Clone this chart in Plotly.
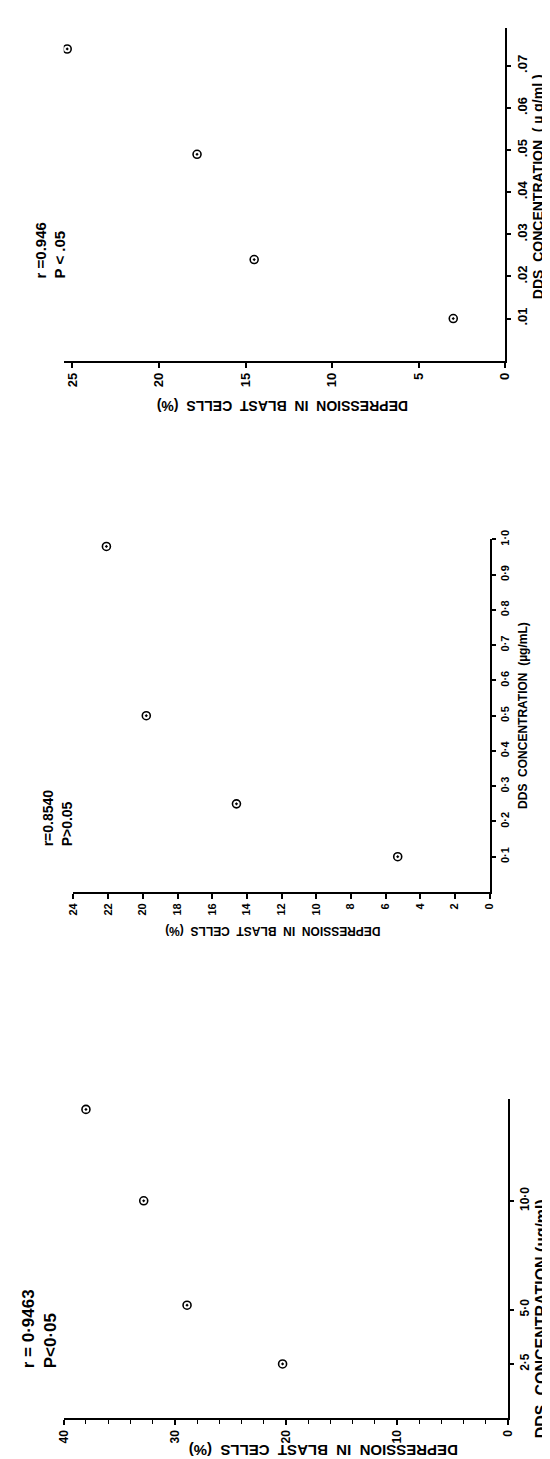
import plotly.graph_objects as go

W, H = 550, 1459

# ---------------- data ----------------
# Panel A (top): DDS 0.01 - 0.07 ug/ml
conc_a = [0.01, 0.024, 0.049, 0.074]
dep_a = [3.0, 14.5, 17.8, 25.3]
conc_a_ticks = [0.01, 0.02, 0.03, 0.04, 0.05, 0.06, 0.07]
conc_a_text = [".01", ".02", ".03", ".04", ".05", ".06", ".07"]
dep_a_ticks = [0, 5, 10, 15, 20, 25]
dep_a_text = ["0", "5", "10", "15", "20", "25"]
stat_a = "r =0.946<br>P < .05"

# Panel B (middle): DDS 0.1 - 1.0 ug/ml
conc_b = [0.1, 0.25, 0.5, 0.98]
dep_b = [5.3, 14.6, 19.8, 22.1]
conc_b_ticks = [0.1, 0.2, 0.3, 0.4, 0.5, 0.6, 0.7, 0.8, 0.9, 1.0]
conc_b_text = ["0·1", "0·2", "0·3", "0·4", "0·5", "0·6", "0·7", "0·8", "0·9", "1·0"]
dep_b_ticks = [0, 2, 4, 6, 8, 10, 12, 14, 16, 18, 20, 22, 24]
dep_b_text = ["0", "2", "4", "6", "8", "10", "12", "14", "16", "18", "20", "22", "24"]
stat_b = "r=0.8540<br>P>0.05"

# Panel C (bottom): DDS 2.5 - 10.0 ug/ml
conc_c = [2.5, 5.2, 10.0, 14.2]
dep_c = [20.3, 28.9, 32.8, 38.0]
conc_c_ticks = [2.5, 5.0, 10.0]
conc_c_text = ["2·5", "5·0", "10·0"]
dep_c_ticks = [0, 10, 20, 30, 40]
dep_c_text = ["0", "10", "20", "30", "40"]
stat_c = "r = 0·9463<br>P<0·05"

x_title_a = "DDS  CONCENTRATION  ( µ g/ml )"
x_title_b = "DDS  CONCENTRATION  (µg/mL)"
x_title_c = "DDS  CONCENTRATION (µg/ml)"
y_title = "DEPRESSION  IN  BLAST  CELLS  (%)"

# ---------------- layout geometry (pixels) ----------------
FONT = "Liberation Sans"
panels = [
    dict(conc=conc_a, dep=dep_a, cticks=conc_a_ticks, ctext=conc_a_text,
         dticks=dep_a_ticks, dtext=dep_a_text, stat=stat_a, ctitle=x_title_a,
         corner=(503, 345), left=50, top=10, dmax=25.5, cmin=0.0, cmax=0.079,
         minor=None, tickfont=13, ctitle_xy=(537, 170), ctitlefont=14,
         stat_xy=(36, 234), statfont=15, dtitle_xy=(275, 390), dtitlefont=14),
    dict(conc=conc_b, dep=dep_b, cticks=conc_b_ticks, ctext=conc_b_text,
         dticks=dep_b_ticks, dtext=dep_b_text, stat=stat_b, ctitle=x_title_b,
         corner=(487, 880), left=60, top=525, dmax=24, cmin=0.0, cmax=1.0,
         minor=None, tickfont=11, ctitle_xy=(521, 702), ctitlefont=12,
         stat_xy=(44, 805), statfont=14, dtitle_xy=(265, 920), dtitlefont=12),
    dict(conc=conc_c, dep=dep_c, cticks=conc_c_ticks, ctext=conc_c_text,
         dticks=dep_c_ticks, dtext=dep_c_text, stat=stat_c, ctitle=x_title_c,
         corner=(506, 1410), left=50, top=1088, dmax=40, cmin=0.0, cmax=14.7,
         minor=2, tickfont=12, ctitle_xy=(540, 1310), ctitlefont=16,
         stat_xy=(26, 1320), statfont=17, dtitle_xy=(316, 1443), dtitlefont=15),
]

fig = go.Figure()
annotations = []
for i, p in enumerate(panels, start=1):
    sfx = "" if i == 1 else str(i)
    cx, cy = p["corner"]
    fig.add_trace(go.Scatter(
        x=p["dep"], y=p["conc"], mode="markers",
        xaxis="x" + sfx, yaxis="y" + sfx,
        marker=dict(symbol="circle-open-dot", size=8, color="black",
                    line=dict(width=1.6, color="black")),
        hoverinfo="skip", showlegend=False))
    xa = dict(
        domain=[p["left"] / W, cx / W], range=[p["dmax"], 0],
        anchor="y" + sfx, showline=True, linecolor="black", linewidth=2,
        showgrid=False, zeroline=False, ticks="outside", ticklen=5,
        tickwidth=1.5, tickcolor="black", tickangle=-90,
        tickmode="array", tickvals=p["dticks"], ticktext=p["dtext"],
        tickfont=dict(family=FONT, size=p["tickfont"], color="black", weight="bold"),
        fixedrange=True)
    if p["minor"]:
        xa["minor"] = dict(dtick=p["minor"], ticks="outside", ticklen=4,
                           tickwidth=1.3, tickcolor="black", showgrid=False)
    ya = dict(
        domain=[1 - cy / H, 1 - p["top"] / H], range=[p["cmin"], p["cmax"]],
        anchor="x" + sfx, side="right", showline=True, linecolor="black",
        linewidth=2, showgrid=False, zeroline=False, ticks="outside",
        ticklen=4, tickwidth=1.5, tickcolor="black", tickangle=-90,
        tickmode="array", tickvals=p["cticks"], ticktext=p["ctext"],
        tickfont=dict(family=FONT, size=p["tickfont"], color="black", weight="bold"),
        fixedrange=True)
    fig.update_layout(**{"xaxis" + sfx: xa, "yaxis" + sfx: ya})

    sx, sy = p["stat_xy"]
    annotations.append(dict(
        text=p["stat"], x=sx / W, y=1 - sy / H, xref="paper", yref="paper",
        textangle=-90, showarrow=False, align="left", xanchor="center",
        yanchor="middle",
        font=dict(family=FONT, size=p["statfont"], color="black", weight="bold")))
    tx, ty = p["dtitle_xy"]
    annotations.append(dict(
        text=y_title, x=tx / W, y=1 - ty / H, xref="paper", yref="paper",
        textangle=180, showarrow=False, xanchor="center", yanchor="middle",
        font=dict(family=FONT, size=p["dtitlefont"], color="black", weight="bold")))
    qx, qy = p["ctitle_xy"]
    annotations.append(dict(
        text=p["ctitle"], x=qx / W, y=1 - qy / H, xref="paper", yref="paper",
        textangle=-90, showarrow=False, xanchor="center", yanchor="middle",
        font=dict(family=FONT, size=p["ctitlefont"], color="black", weight="bold")))

fig.update_layout(
    width=W, height=H, margin=dict(l=0, r=0, t=0, b=0),
    paper_bgcolor="white", plot_bgcolor="white", showlegend=False,
    annotations=annotations)

fig.write_html("out.html")
